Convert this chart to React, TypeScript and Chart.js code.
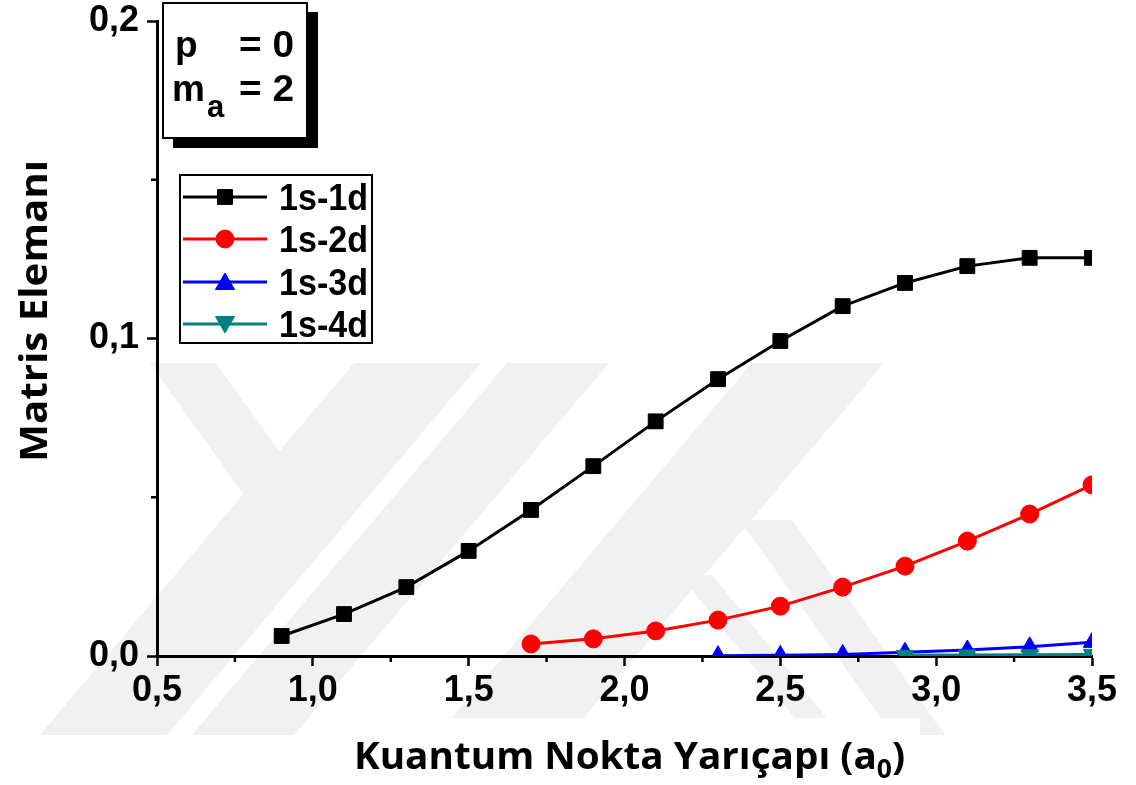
import { useEffect, useRef } from "react";
import { Chart, registerables } from "chart.js";
import { drawPoint } from "chart.js/helpers";

Chart.register(...registerables);

// Quantum dot radius (a0) and matrix element for each transition
const radius1s1d = [0.9, 1.1, 1.3, 1.5, 1.7, 1.9, 2.1, 2.3, 2.5, 2.7, 2.9, 3.1, 3.3, 3.5];
const matrix1s1d = [0.0063, 0.0132, 0.0217, 0.0331, 0.046, 0.0598, 0.0739, 0.0872, 0.0992, 0.1102, 0.1175, 0.1228, 0.1254, 0.1254];
const radius1s2d = [1.7, 1.9, 2.1, 2.3, 2.5, 2.7, 2.9, 3.1, 3.3, 3.5];
const matrix1s2d = [0.0038, 0.0054, 0.0079, 0.0113, 0.0157, 0.0217, 0.0283, 0.0362, 0.0447, 0.0539];
const radius1s3d = [2.3, 2.5, 2.7, 2.9, 3.1, 3.3, 3.5];
const matrix1s3d = [0.0001, 0.0002, 0.0005, 0.0012, 0.0019, 0.0029, 0.0043];
const radius1s4d = [2.9, 3.1, 3.3, 3.5];
const matrix1s4d = [0.0002, 0.0003, 0.0004, 0.0005];

const seriesNames = ["1s-1d", "1s-2d", "1s-3d", "1s-4d"];
const seriesX = [radius1s1d, radius1s2d, radius1s3d, radius1s4d];
const seriesY = [matrix1s1d, matrix1s2d, matrix1s3d, matrix1s4d];

// Axis ranges and tick positions
const xRange = [0.5, 3.5];
const yRange = [0, 0.2];
const xStep = 0.5;
const yStep = 0.1;
const xMinorTicks = [0.75, 1.25, 1.75, 2.25, 2.75, 3.25];
const yMinorTicks = [0.05, 0.15];

const xTitleMain = "Kuantum Nokta Yarıçapı (a";
const xTitleSub = "0";
const xTitleEnd = ")";
const yTitle = "Matris Elemanı";

// Series look: colour and marker
const seriesStyle = [
  { color: "#000000", pointStyle: "rect", radius: 10.5, rotation: 0 },
  { color: "#ff0000", pointStyle: "circle", radius: 9, rotation: 0 },
  { color: "#0000ff", pointStyle: "triangle", radius: 10, rotation: 0 },
  { color: "#008080", pointStyle: "triangle", radius: 10, rotation: 180 },
];

// Faint background stamp, drawn as flat grey bands
const stampBands: number[][][] = [
  [[150, 363], [216, 363], [300, 480], [262, 520]],
  [[354, 363], [481, 363], [167, 735], [40, 735]],
  [[507, 363], [609, 363], [294, 735], [192, 735]],
  [[752, 363], [884, 363], [569, 735], [437, 735]],
  [[680, 575], [712, 575], [840, 735], [808, 735]],
  [[740, 520], [792, 520], [945, 735], [893, 735]],
];

const tickFont = { family: "'Liberation Sans', Arial, sans-serif", size: 36, weight: "bold" as const };
const fmt = (v: number) => Number(v).toFixed(1).replace(".", ",");

function fitText(ctx: CanvasRenderingContext2D, text: string, x: number, y: number, width: number) {
  const w = ctx.measureText(text).width;
  ctx.save();
  ctx.translate(x, y);
  ctx.scale(width / w, 1);
  ctx.textAlign = "left";
  ctx.fillText(text, 0, 0);
  ctx.restore();
}

const decorPlugin = {
  id: "decor",
  beforeDraw(chart: any) {
    const ctx: CanvasRenderingContext2D = chart.ctx;
    ctx.save();
    ctx.fillStyle = "#ffffff";
    ctx.fillRect(0, 0, chart.width, chart.height);
    ctx.fillStyle = "#f1f1f1";
    for (const band of stampBands) {
      ctx.beginPath();
      band.forEach(([px, py], i) => (i ? ctx.lineTo(px, py) : ctx.moveTo(px, py)));
      ctx.closePath();
      ctx.fill();
    }
    // clean panel under the x-axis title
    ctx.fillStyle = "#ffffff";
    ctx.fillRect(339, 718, 581, 67);
    ctx.restore();
  },
  beforeDatasetsDraw(chart: any) {
    const ctx: CanvasRenderingContext2D = chart.ctx;
    const xs = chart.scales.x;
    const ys = chart.scales.y;
    const left = xs.getPixelForValue(xRange[0]);
    const bottom = ys.getPixelForValue(yRange[0]);
    ctx.save();
    ctx.strokeStyle = "#000";
    ctx.lineWidth = 2.5;
    for (const v of xMinorTicks) {
      const px = xs.getPixelForValue(v);
      ctx.beginPath();
      ctx.moveTo(px, bottom);
      ctx.lineTo(px, bottom + 6);
      ctx.stroke();
    }
    for (const v of yMinorTicks) {
      const py = ys.getPixelForValue(v);
      ctx.beginPath();
      ctx.moveTo(left, py);
      ctx.lineTo(left - 6, py);
      ctx.stroke();
    }
    ctx.restore();
  },
  afterDraw(chart: any) {
    const ctx: CanvasRenderingContext2D = chart.ctx;
    ctx.save();
    ctx.fillStyle = "#000";
    ctx.textBaseline = "alphabetic";

    // x-axis title with subscript
    const big = "bold 38px 'Open Sans', sans-serif";
    const small = "bold 26px 'Open Sans', sans-serif";
    ctx.font = big;
    const w1 = ctx.measureText(xTitleMain).width;
    const w3 = ctx.measureText(xTitleEnd).width;
    ctx.font = small;
    const w2 = ctx.measureText(xTitleSub).width;
    const total = w1 + w2 + w3;
    const k = 551 / total;
    ctx.save();
    ctx.translate(354, 769);
    ctx.scale(k, 1);
    ctx.font = big;
    ctx.fillText(xTitleMain, 0, 0);
    ctx.font = small;
    ctx.fillText(xTitleSub, w1, 9);
    ctx.font = big;
    ctx.fillText(xTitleEnd, w1 + w2, 0);
    ctx.restore();

    // y-axis title
    ctx.save();
    ctx.font = big;
    const wy = ctx.measureText(yTitle).width;
    ctx.translate(47, 311);
    ctx.rotate(-Math.PI / 2);
    ctx.scale(302 / wy, 1);
    ctx.textAlign = "center";
    ctx.fillText(yTitle, 0, 0);
    ctx.restore();

    // parameter box with drop shadow
    ctx.fillStyle = "#000";
    ctx.fillRect(173, 12, 145, 136);
    ctx.fillStyle = "#fff";
    ctx.fillRect(163, 3, 144, 135);
    ctx.strokeStyle = "#000";
    ctx.lineWidth = 2;
    ctx.strokeRect(163, 3, 144, 135);
    ctx.fillStyle = "#000";
    ctx.font = "bold 37px 'Liberation Sans', Arial, sans-serif";
    ctx.fillText("p", 175, 57);
    fitText(ctx, "= 0", 239, 57, 55);
    ctx.fillText("m", 172, 101);
    fitText(ctx, "= 2", 239, 101, 55);
    ctx.font = "bold 31px 'Liberation Sans', Arial, sans-serif";
    ctx.fillText("a", 207, 117);

    // legend
    ctx.fillStyle = "#fff";
    ctx.fillRect(180, 175, 192, 168);
    ctx.strokeStyle = "#000";
    ctx.lineWidth = 2;
    ctx.strokeRect(180, 175, 192, 168);
    const rows = [197, 239, 282, 324];
    chart.data.datasets.forEach((ds: any, i: number) => {
      const ry = rows[i];
      const st = seriesStyle[i];
      ctx.strokeStyle = ds.borderColor;
      ctx.lineWidth = 3;
      ctx.beginPath();
      ctx.moveTo(183, ry);
      ctx.lineTo(267, ry);
      ctx.stroke();
      ctx.fillStyle = ds.backgroundColor;
      ctx.strokeStyle = ds.borderColor;
      ctx.lineWidth = 1;
      drawPoint(
        ctx,
        { pointStyle: st.pointStyle as any, radius: st.pointStyle === "triangle" ? 11 : st.radius, rotation: st.rotation, borderWidth: 1 },
        225,
        ry + (st.pointStyle === "triangle" ? (st.rotation ? -2 : 2) : 0)
      );
      ctx.fillStyle = "#000";
      ctx.font = "bold 37px 'Liberation Sans', Arial, sans-serif";
      fitText(ctx, ds.label, 279, ry + 13, 89);
    });
    ctx.restore();
  },
};

export default function App() {
  const canvasRef = useRef<HTMLCanvasElement | null>(null);

  useEffect(() => {
    const canvas = canvasRef.current;
    if (!canvas) return;
    const chart = new Chart(canvas, {
      type: "scatter",
      data: {
        datasets: seriesNames.map((name, i) => ({
          label: name,
          data: seriesX[i].map((x, j) => ({ x, y: seriesY[i][j] })),
          showLine: true,
          tension: 0,
          borderColor: seriesStyle[i].color,
          backgroundColor: seriesStyle[i].color,
          borderWidth: 3,
          pointStyle: seriesStyle[i].pointStyle as any,
          pointRadius: seriesStyle[i].radius,
          pointRotation: seriesStyle[i].rotation,
          pointBorderWidth: 1,
          pointBorderColor: seriesStyle[i].color,
          pointBackgroundColor: seriesStyle[i].color,
          order: 3 - i,
        })),
      },
      options: {
        responsive: false,
        animation: false,
        events: [],
        layout: { padding: { top: 21, right: 44, left: 0, bottom: 0 } },
        plugins: {
          legend: { display: false },
          tooltip: { enabled: false },
          title: { display: false },
        },
        scales: {
          x: {
            type: "linear",
            min: xRange[0],
            max: xRange[1],
            ticks: {
              stepSize: xStep,
              callback: (v: any) => fmt(v),
              font: tickFont,
              color: "#000",
              padding: 3,
              maxRotation: 0,
              autoSkip: false,
            },
            grid: {
              display: true,
              drawOnChartArea: false,
              drawTicks: true,
              tickLength: 10,
              tickWidth: 2.5,
              tickColor: "#000",
              color: "#000",
            },
            border: { display: true, color: "#000", width: 3 },
            afterFit: (s: any) => {
              s.height = 129;
              s.paddingLeft = 0;
              s.paddingRight = 0;
            },
          },
          y: {
            type: "linear",
            min: yRange[0],
            max: yRange[1],
            ticks: {
              stepSize: yStep,
              callback: (v: any) => fmt(v),
              font: tickFont,
              color: "#000",
              padding: 8,
            },
            grid: {
              display: true,
              drawOnChartArea: false,
              drawTicks: true,
              tickLength: 10,
              tickWidth: 2.5,
              tickColor: "#000",
              color: "#000",
            },
            border: { display: true, color: "#000", width: 3 },
            afterFit: (s: any) => {
              s.width = 157;
              s.paddingTop = 0;
              s.paddingBottom = 0;
            },
          },
        },
      },
      plugins: [decorPlugin],
    });
    return () => chart.destroy();
  }, []);

  return (
    <div style={{ position: "fixed", left: 0, top: 0, width: 1136, height: 785, background: "#fff" }}>
      <canvas ref={canvasRef} width={1136} height={785} style={{ display: "block" }} />
    </div>
  );
}
